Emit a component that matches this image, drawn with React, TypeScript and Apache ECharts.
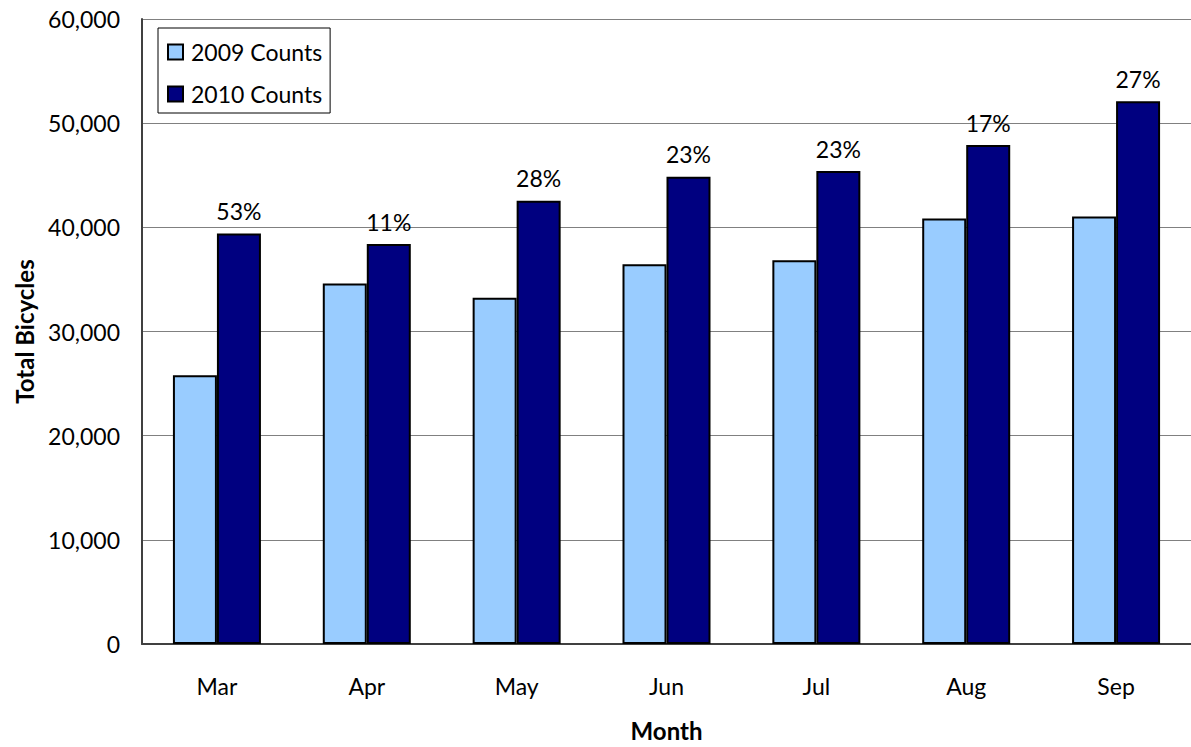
import React, { useEffect, useRef } from "react";
import * as echarts from "echarts";

const months = ["Mar", "Apr", "May", "Jun", "Jul", "Aug", "Sep"];
const counts2009 = [25800, 34600, 33250, 36450, 36850, 40850, 41050];
const counts2010 = [39400, 38400, 42550, 44850, 45400, 47900, 52100];
const changeLabels = ["53%", "11%", "28%", "23%", "23%", "17%", "27%"];
const yTicks = { min: 0, max: 60000, interval: 10000 };

const FONT = "Lato, 'Open Sans', sans-serif";

export default function App() {
  const ref = useRef<HTMLDivElement>(null);

  useEffect(() => {
    document.body.style.margin = "0";
    if (!ref.current) return;
    const chart = echarts.init(ref.current, null, { renderer: "svg" });
    chart.setOption({
      animation: false,
      backgroundColor: "#ffffff",
      textStyle: { fontFamily: FONT, color: "#000" },
      grid: { left: 142, top: 19, right: 0, bottom: 97, containLabel: false },
      legend: {
        orient: "vertical",
        left: 158,
        top: 28,
        borderColor: "#000",
        borderWidth: 1,
        padding: [11, 8, 6, 9],
        itemWidth: 15,
        itemHeight: 15,
        itemGap: 16,
        icon: "rect",
        textStyle: { fontSize: 23, fontFamily: FONT, color: "#000", lineHeight: 26, padding: [0, 0, 0, 3] },
        data: ["2009 Counts", "2010 Counts"],
      },
      xAxis: {
        type: "category",
        data: months,
        name: "Month",
        nameLocation: "middle",
        nameGap: 74,
        nameTextStyle: { fontSize: 24, fontWeight: "bold", fontFamily: FONT, color: "#000" },
        axisLine: { show: true, lineStyle: { color: "#404040", width: 2 } },
        axisTick: { show: false },
        axisLabel: { fontSize: 23, fontFamily: FONT, color: "#000", margin: 30 },
      },
      yAxis: {
        type: "value",
        min: yTicks.min,
        max: yTicks.max,
        interval: yTicks.interval,
        name: "Total Bicycles",
        nameLocation: "middle",
        nameGap: 106,
        nameRotate: 90,
        nameTextStyle: { fontSize: 24, fontWeight: "bold", fontFamily: FONT, color: "#000" },
        axisLine: { show: true, lineStyle: { color: "#404040", width: 2 } },
        axisTick: { show: false },
        splitLine: { show: true, lineStyle: { color: "#808080", width: 1 } },
        axisLabel: {
          fontSize: 23,
          fontFamily: FONT,
          color: "#000",
          margin: 22,
          formatter: (v: number) => v.toLocaleString("en-US"),
        },
      },
      series: [
        {
          name: "2009 Counts",
          type: "bar",
          data: counts2009,
          barWidth: 44,
          barGap: "0%",
          itemStyle: { color: "#99CCFF", borderColor: "#000", borderWidth: 2 },
        },
        {
          name: "2010 Counts",
          type: "bar",
          data: counts2010,
          barWidth: 44,
          barGap: "0%",
          itemStyle: { color: "#000080", borderColor: "#000", borderWidth: 2 },
          label: {
            show: true,
            position: "top",
            distance: 11,
            fontSize: 23,
            fontFamily: FONT,
            color: "#000",
            formatter: (p: any) => changeLabels[p.dataIndex],
          },
        },
      ],
    });
    return () => chart.dispose();
  }, []);

  return <div ref={ref} style={{ width: 1191, height: 747 }} />;
}
